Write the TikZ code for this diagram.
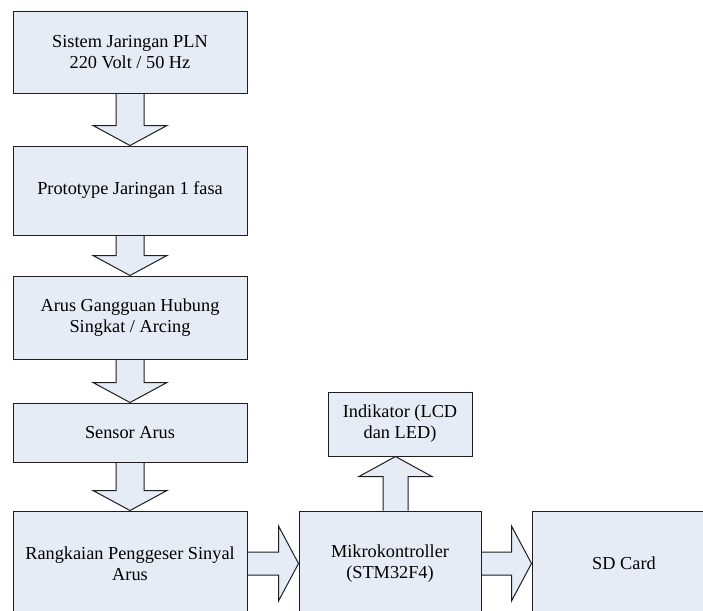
\documentclass[tikz,border=0pt]{standalone}
\usepackage{fontspec}
\setmainfont{Liberation Serif}
\usetikzlibrary{calc,backgrounds}

\definecolor{boxfill}{RGB}{230,236,246}
\definecolor{edgegray}{RGB}{30,30,30}

\tikzset{
  blk/.style={draw=edgegray, fill=boxfill, line width=1pt, align=center,
    inner sep=2pt, font=\fontsize{18.3}{21}\selectfont},
  fat/.style={draw=edgegray, fill=boxfill, line width=1pt, line join=miter}
}

% block arrows: shaft from #1 to a head whose tip is at #2
\newcommand\fatdown[2]{\draw[fat] let \p1=(#1), \p2=(#2) in
  (\x1-14pt,\y1) -- (\x1-14pt,\y2+20pt) -- (\x1-37pt,\y2+20pt) -- (\x1,\y2)
  -- (\x1+37pt,\y2+20pt) -- (\x1+14pt,\y2+20pt) -- (\x1+14pt,\y1);}
\newcommand\fatup[2]{\draw[fat] let \p1=(#1), \p2=(#2) in
  (\x1-12.5pt,\y1) -- (\x1-12.5pt,\y2-20pt) -- (\x1-36.5pt,\y2-20pt) -- (\x1,\y2)
  -- (\x1+36.5pt,\y2-20pt) -- (\x1+12.5pt,\y2-20pt) -- (\x1+12.5pt,\y1);}
\newcommand\fatright[2]{\draw[fat] let \p1=(#1), \p2=(#2) in
  (\x1,\y1+11.5pt) -- (\x2-20pt,\y1+11.5pt) -- (\x2-20pt,\y1+37.5pt) -- (\x2,\y1)
  -- (\x2-20pt,\y1-37.5pt) -- (\x2-20pt,\y1-11.5pt) -- (\x1,\y1-11.5pt);}

\begin{document}
\begin{tikzpicture}[x=1pt,y=-1pt]
  \useasboundingbox (0,0) rectangle (703,610);

  % left column
  \node[blk, minimum width=234pt, minimum height=81pt] (pln) at (130,52.5)
    {Sistem Jaringan PLN\\220 Volt / 50 Hz};
  \node[blk, minimum width=234pt, minimum height=89pt] (proto) at (130,190.5)
    {Prototype Jaringan 1 fasa};
  \node[blk, minimum width=234pt, minimum height=83pt] (fault) at (130,317.5)
    {Arus Gangguan Hubung\\Singkat / Arcing};
  \node[blk, minimum width=234pt, minimum height=59pt] (sensor) at (130,432.5)
    {Sensor Arus};
  \node[blk, minimum width=234pt, minimum height=105pt] (shift) at (130,563.5)
    {Rangkaian Penggeser Sinyal\\Arus};

  % bottom row
  \node[blk, minimum width=182pt, minimum height=105pt] (mcu) at (390,563.5)
    {Mikrokontroller\\(STM32F4)};
  \node[blk, minimum width=144pt, minimum height=64pt] (ind) at (400,424)
    {Indikator (LCD\\dan LED)};
  \node[blk, minimum width=184pt, minimum height=105pt] (sd) at (624,563.5)
    {SD Card};

  % block arrows between the stages
  \begin{scope}[on background layer]
    \fatdown{pln.south}{proto.north}
    \fatdown{proto.south}{fault.north}
    \fatdown{fault.south}{sensor.north}
    \fatdown{sensor.south}{shift.north}
    \fatright{shift.east}{mcu.west}
    \fatright{mcu.east}{sd.west}
    \fatup{$(mcu.north)+(5.5,0)$}{ind.south}
  \end{scope}
\end{tikzpicture}
\end{document}
